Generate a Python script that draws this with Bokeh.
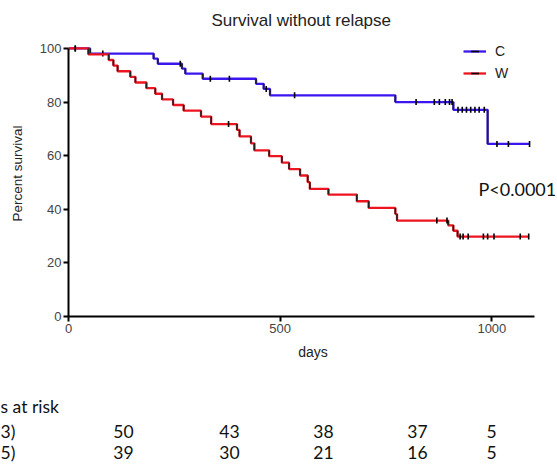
import math
from bokeh.plotting import figure
from bokeh.layouts import column
from bokeh.models import Range1d, FixedTicker, Label, Legend, LegendItem
from bokeh.core.properties import value
from bokeh.embed import file_html
from bokeh.resources import INLINE

# ---- data ----
c_time = [0, 51, 201, 211, 268, 276, 317, 443, 461, 476, 772, 909, 990, 1089]
c_surv = [100, 98.1, 96.2, 94.3, 92.5, 90.6, 88.7, 86.8, 84.9, 82.5, 80.0, 77.1, 64.4, 64.4]
c_cens = [16, 81, 264, 335, 380, 467, 534, 821, 864, 876, 890, 900, 906,
          920, 930, 940, 950, 960, 970, 982, 1012, 1039, 1089]

w_time = [0, 47, 95, 106, 116, 146, 158, 184, 205, 221, 247, 272, 313, 337, 398, 404,
          431, 439, 474, 504, 521, 547, 565, 570, 614, 681, 709, 772, 776, 897, 909, 919, 1087]
w_surv = [100, 97.8, 95.7, 93.6, 91.5, 89.4, 87.3, 85.2, 83.1, 81.0, 78.9, 76.8, 74.6, 71.8,
          69.6, 67.2, 64.6, 62.0, 59.8, 57.4, 55.0, 52.6, 50.1, 47.6, 45.5, 43.0, 40.5, 38.2,
          35.8, 34.0, 32.0, 29.8, 29.8]
w_cens = [16, 378, 870, 894, 925, 932, 944, 980, 990, 1005, 1067, 1087]

groups = ["C", "W"]
colors = ["#3c16ee", "#ee1420"]
x_ticks = [0, 500, 1000]
y_ticks = [0, 20, 40, 60, 80, 100]

risk_header = "s at risk"
risk_rows = ["3)", "5)"]
risk_c = [50, 43, 38, 37, 5]
risk_w = [39, 30, 21, 16, 5]
risk_x = [123, 229, 323, 417, 491]  # x centres of the columns (px)
risk_y = [406, 431, 452]            # y centres of header / rows (px)

title_text = "Survival without relapse"
p_text = "P<0.0001"
y_label = "Percent survival"
x_label = "days"


def step_value(times, surv, t):
    v = surv[0]
    for ti, si in zip(times, surv):
        if ti <= t:
            v = si
    return v


W = 557
H1 = 370
FL, FB = 68, 316  # frame left / bottom (px)
p = figure(width=W, height=H1, output_backend="svg", toolbar_location=None,
           x_range=Range1d(0, 1155), y_range=Range1d(0, 106.7),
           min_border_left=68, min_border_right=0, min_border_top=30, min_border_bottom=54)
p.frame_align = False
p.title.text = title_text
p.title.align = "left"
p.title.offset = 143
p.title.standoff = 2
p.title.text_font = "Liberation Sans"
p.title.text_font_size = "17px"
p.title.text_font_style = "normal"
p.title.text_color = "#222222"
p.xgrid.visible = False
p.ygrid.visible = False
p.outline_line_color = None
p.background_fill_color = "white"
p.border_fill_color = "white"

for ax, ticks in ((p.xaxis[0], x_ticks), (p.yaxis[0], y_ticks)):
    ax.ticker = FixedTicker(ticks=ticks)
    ax.axis_line_width = 2
    ax.axis_line_color = "black"
    ax.major_tick_line_width = 2
    ax.major_tick_line_color = "black"
    ax.major_tick_out = 5
    ax.major_tick_in = 0
    ax.minor_tick_line_color = None
    ax.major_label_text_font = "Liberation Sans"
    ax.major_label_text_font_size = "13px"
    ax.major_label_text_color = "#444444"
    ax.axis_label_text_font = "Liberation Sans"
    ax.axis_label_text_font_style = "normal"
    ax.axis_label_text_color = "#222222"
p.xaxis[0].bounds = (0, 1100)
p.yaxis[0].bounds = (0, 100)
p.yaxis[0].major_label_standoff = 2
p.xaxis[0].major_label_standoff = 2
p.yaxis[0].axis_label = y_label
p.yaxis[0].axis_label_text_font_size = "13.5px"
p.yaxis[0].axis_label_standoff = 12
p.xaxis[0].axis_label = x_label
p.xaxis[0].axis_label_text_font_size = "14px"
p.xaxis[0].axis_label_standoff = 8

legend_items = []
for name, col, times, surv, cens in ((groups[0], colors[0], c_time, c_surv, c_cens),
                                     (groups[1], colors[1], w_time, w_surv, w_cens)):
    r_line = p.step(times, surv, mode="after", line_color=col, line_width=2.3)
    xs, y0, y1 = [], [], []
    for i in range(1, len(times)):
        if surv[i] < surv[i - 1]:
            xs.append(times[i]); y0.append(surv[i - 1]); y1.append(surv[i])
    p.segment(x0=xs, y0=y0, x1=xs, y1=y1, line_color="#222222", line_width=1.6)
    cy = [step_value(times, surv, t) for t in cens]
    r_c = p.scatter(cens, cy, marker="dash", angle=math.pi / 2, size=6,
                    line_color="black", line_width=1.6)
    legend_items.append(LegendItem(label=name, renderers=[r_line, r_c]))

legend = Legend(items=legend_items, location=(395, 233), orientation="vertical",
                glyph_width=23, glyph_height=20, spacing=2, padding=0, margin=0,
                label_text_font="Liberation Sans", label_text_font_size="14px",
                label_text_color="#222222", label_standoff=9,
                background_fill_alpha=0, border_line_alpha=0)
p.add_layout(legend)

p.add_layout(Label(x=478 - FL, y=FB - 188, x_units="screen", y_units="screen",
                   text=p_text, text_font="Lato", text_font_size="18px",
                   text_align="left", text_baseline="middle", text_color="#111111"))

# ---- numbers at risk table ----
H2 = 464 - H1
t = figure(width=W, height=H2, output_backend="svg", toolbar_location=None,
           x_range=Range1d(0, W), y_range=Range1d(464, H1),
           x_axis_type=None, y_axis_type=None, min_border=0)
t.frame_align = False
t.xgrid.visible = False
t.ygrid.visible = False
t.outline_line_color = None
t.border_fill_color = "white"

tf = dict(text_font=value("Lato"), text_font_size="17.5px", text_color="#111111",
          text_baseline="middle")
t.text(x=[0, 0, 0], y=risk_y, text=[risk_header] + risk_rows, text_align="left", **tf)
t.text(x=risk_x, y=[risk_y[1]] * len(risk_x), text=[str(v) for v in risk_c],
       text_align="center", **tf)
t.text(x=risk_x, y=[risk_y[2]] * len(risk_x), text=[str(v) for v in risk_w],
       text_align="center", **tf)

layout = column(p, t, spacing=0)
open("out.html", "w").write(file_html(layout, INLINE))
